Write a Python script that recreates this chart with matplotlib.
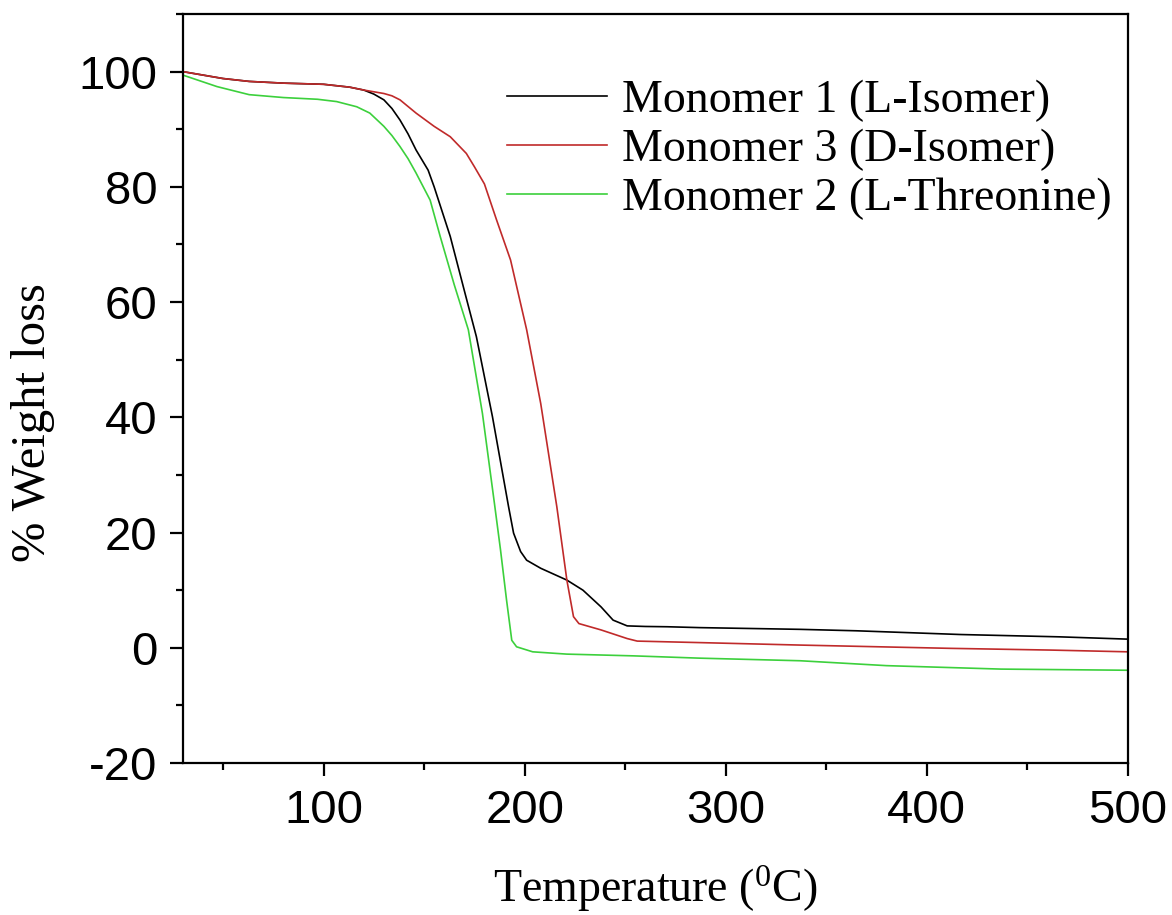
import matplotlib
matplotlib.use("Agg")
import matplotlib.pyplot as plt
from matplotlib.ticker import MultipleLocator

# ── Data ─────────────────────────────────────────────────────────────────────

T_M1 = [30, 50, 63, 80, 100, 113, 120, 125, 130, 134, 138, 142, 146, 152, 155,
        163, 170, 176, 184, 192, 194.5, 198, 201, 208, 221, 229, 238, 244, 251,
        260, 271, 287, 337, 365, 417, 466, 500]
W_M1 = [100, 98.8, 98.3, 98, 97.8, 97.3, 96.8, 96.1, 95.1, 93.6, 91.6, 89.2,
        86.4, 82.9, 80, 71.4, 62, 54, 40.1, 24.5, 19.9, 16.7, 15.2, 13.8, 11.75,
        10, 7.1, 4.8, 3.8, 3.7, 3.65, 3.5, 3.2, 2.95, 2.3, 1.9, 1.5]

T_M3 = [30, 50, 63, 80, 100, 113, 120, 125, 130, 134, 138, 146, 155, 163, 171,
        175, 180, 186, 193, 201, 208, 216, 221, 224.3, 227, 238, 251, 256, 287,
        337, 412, 462, 500]
W_M3 = [100, 98.8, 98.3, 98, 97.8, 97.3, 96.8, 96.5, 96.2, 95.8, 95.1, 92.8,
        90.5, 88.7, 85.8, 83.5, 80.5, 74.3, 67.3, 55.2, 42.4, 24.5, 11.75, 5.4,
        4.2, 3.1, 1.6, 1.16, 0.9, 0.47, -0.1, -0.4, -0.7]

T_M2 = [30, 47, 63, 80, 97, 106.5, 116.5, 123, 130, 134, 138, 142, 146, 153,
        158, 165, 172, 179, 185, 188, 191, 193.6, 196, 204, 221, 254, 287, 337,
        380, 437, 500]
W_M2 = [99.4, 97.4, 96, 95.5, 95.2, 94.8, 93.9, 92.8, 90.5, 88.9, 87, 84.9,
        82.4, 77.7, 71.4, 63, 55.2, 40.7, 25, 17, 8.3, 1.3, 0.17, -0.7, -1.1,
        -1.4, -1.8, -2.25, -3.1, -3.7, -3.9]

LABELS = ["Monomer 1 (L-Isomer)", "Monomer 3 (D-Isomer)", "Monomer 2 (L-Threonine)"]
COLORS = ["#000000", "#c02a2a", "#3cd03c"]

# ── Figure ───────────────────────────────────────────────────────────────────

plt.rcParams["mathtext.fontset"] = "custom"
plt.rcParams["mathtext.rm"] = "Liberation Serif"
plt.rcParams["axes.unicode_minus"] = False

fig = plt.figure(figsize=(11.72, 9.15), dpi=100, facecolor="white")
ax = fig.add_axes([0.156, 0.1661, 0.8063, 0.8186])

for (t, w), lab, col in zip([(T_M1, W_M1), (T_M3, W_M3), (T_M2, W_M2)], LABELS, COLORS):
    ax.plot(t, w, color=col, linewidth=1.2, label=lab)

ax.set_xlim(30, 500)
ax.set_ylim(-20, 110)
ax.xaxis.set_major_locator(MultipleLocator(100))
ax.xaxis.set_minor_locator(MultipleLocator(50))
ax.yaxis.set_major_locator(MultipleLocator(20))
ax.yaxis.set_minor_locator(MultipleLocator(10))

for spine in ax.spines.values():
    spine.set_linewidth(1.6)

ax.tick_params(which="major", direction="out", length=9.5, width=1.6,
               labelsize=34, pad=9)
ax.tick_params(which="minor", direction="out", length=5, width=1.6)
for lbl in ax.get_xticklabels() + ax.get_yticklabels():
    lbl.set_family("Liberation Sans")

ax.set_xlabel("Temperature ($\\mathregular{^{0}}$C)", family="Liberation Serif",
              fontsize=33, labelpad=22)
ax.set_ylabel("% Weight loss", family="Liberation Serif", fontsize=35)
ax.yaxis.set_label_coords(-0.135, 0.455)

ax.legend(loc="upper left", bbox_to_anchor=(0.343, 0.912), frameon=False,
          prop={"family": "Liberation Serif", "size": 33},
          handlelength=2.18, handletextpad=0.33, labelspacing=0.14,
          borderpad=0, borderaxespad=0)

fig.savefig("out.png", dpi=100)
